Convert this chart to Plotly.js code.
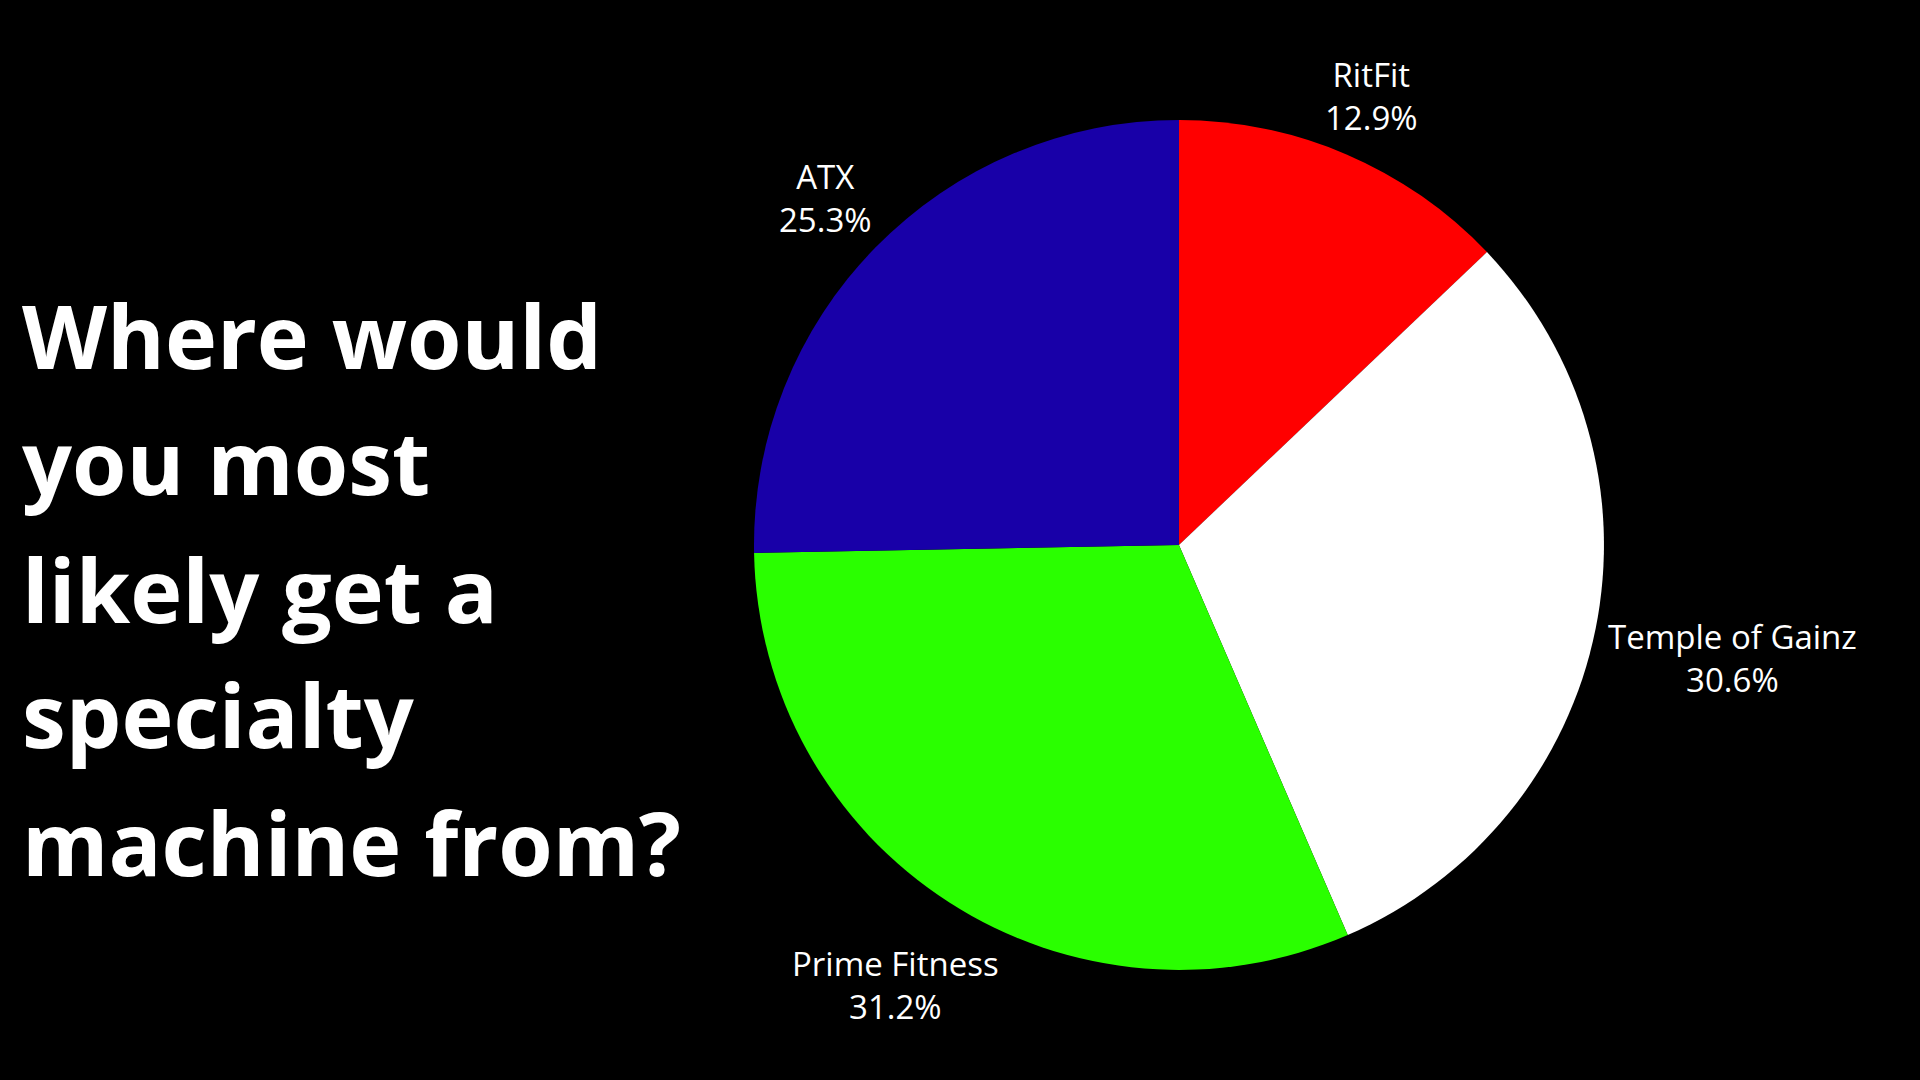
<!DOCTYPE html>
<html>
<head>
<meta charset="utf-8">
<script src="https://cdn.plot.ly/plotly-3.0.1.min.js"></script>
<style>html,body{margin:0;padding:0;background:#000;}#chart{width:1920px;height:1080px;}</style>
</head>
<body>
<div id="chart"></div>
<script>
const labels = ["RitFit", "Temple of Gainz", "Prime Fitness", "ATX"];
const values = [12.9, 30.6, 31.2, 25.3];
const colors = ["#ff0000", "#ffffff", "#2aff00", "#1800a8"];
const titleLines = ["Where would", "you most", "likely get a", "specialty", "machine from?"];

const W = 1920, H = 1080;
const dom = {x: [0.3927, 0.8354], y: [0.1019, 0.8889]};

const trace = {
  type: "pie",
  labels: labels,
  values: values,
  sort: false,
  direction: "clockwise",
  rotation: 0,
  marker: {colors: colors, line: {width: 0}},
  textinfo: "none",
  textposition: "none",
  hoverinfo: "none",
  showlegend: false,
  domain: dom
};

// pie geometry (derived from the domain)
const cx = (dom.x[0] + dom.x[1]) / 2 * W;
const cy = (1 - (dom.y[0] + dom.y[1]) / 2) * H;
const R = Math.min((dom.x[1] - dom.x[0]) * W, (dom.y[1] - dom.y[0]) * H) / 2;

const labelFont = {family: "Open Sans", size: 33, color: "#ffffff"};
const canvas = document.createElement("canvas");
const ctx = canvas.getContext("2d");
ctx.font = labelFont.size + "px " + labelFont.family;

const total = values.reduce((a, b) => a + b, 0);
let cum = 0;
const labelAnnots = labels.map((lab, i) => {
  const pct = (values[i] / total * 100).toFixed(1) + "%";
  const mid = (cum + values[i] / 2) / total * 2 * Math.PI;
  cum += values[i];
  const dx = Math.sin(mid), dy = -Math.cos(mid);
  const hw = Math.max(ctx.measureText(lab).width, ctx.measureText(pct).width) / 2;
  const hh = 39;
  const d = R + 10 + hw * Math.abs(dx) + hh * Math.abs(dy);
  const px = cx + d * dx, py = cy + d * dy;
  return {
    text: lab + "<br>" + pct,
    xref: "paper", yref: "paper",
    x: px / W, y: 1 - py / H,
    xanchor: "center", yanchor: "middle",
    showarrow: false,
    font: labelFont
  };
});

const titleY = [0.690, 0.573, 0.455, 0.339, 0.220];
const titleAnnots = titleLines.map((t, i) => ({
  text: "<b>" + t + "</b>",
  xref: "paper", yref: "paper",
  x: 0.0105, y: titleY[i],
  xanchor: "left", yanchor: "middle",
  showarrow: false,
  font: {family: "Open Sans", size: 88, color: "#ffffff"}
}));

const layout = {
  width: W, height: H,
  paper_bgcolor: "#000000",
  plot_bgcolor: "#000000",
  margin: {l: 0, r: 0, t: 0, b: 0},
  showlegend: false,
  annotations: titleAnnots.concat(labelAnnots)
};

Plotly.newPlot("chart", [trace], layout, {displayModeBar: false, staticPlot: true});
</script>
</body>
</html>
